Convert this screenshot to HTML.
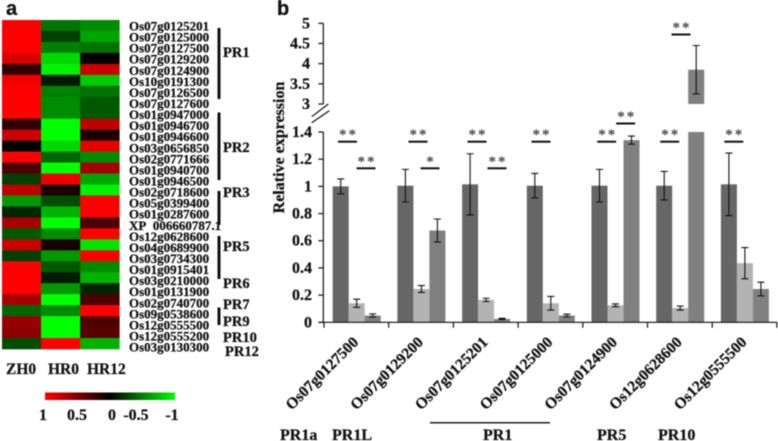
<!DOCTYPE html>
<html>
<head>
<meta charset="utf-8">
<style>
html,body{margin:0;padding:0;background:#fff;width:778px;height:441px;overflow:hidden}
svg{display:block;filter:blur(0.45px)}
text{font-family:"Liberation Serif",serif;font-weight:bold;fill:#111;stroke:#111;stroke-width:0.25px}
</style>
</head>
<body>
<svg id="figure" width="778" height="441" viewBox="0 0 778 441" xmlns="http://www.w3.org/2000/svg">
  <defs>
    <linearGradient id="cbar" x1="0" x2="1" y1="0" y2="0">
      <stop offset="0" stop-color="#ff0000"/>
      <stop offset="0.5" stop-color="#000000"/>
      <stop offset="1" stop-color="#00ff00"/>
    </linearGradient>
  </defs>
  <text x="6" y="15" style="font-family:'Liberation Sans',sans-serif;font-size:20px">a</text>
  <text x="277" y="15" style="font-family:'Liberation Sans',sans-serif;font-size:20px">b</text>
  <g id="heatmap"></g>
  <g id="genes"></g>
  <g fill="#111">
    <rect x="217.5" y="28" width="3" height="71"/>
    <rect x="217.5" y="112.5" width="3" height="67.5"/>
    <rect x="217.5" y="191" width="3" height="34"/>
    <rect x="217.5" y="236" width="3" height="43"/>
    <rect x="217.5" y="307.5" width="3" height="17.5"/>
  </g>
  <g font-size="14.5">
    <text x="223" y="57">PR1</text>
    <text x="223" y="152">PR2</text>
    <text x="223" y="197">PR3</text>
    <text x="223" y="251">PR5</text>
    <text x="223" y="288">PR6</text>
    <text x="223" y="309">PR7</text>
    <text x="223" y="326">PR9</text>
    <text x="223" y="342">PR10</text>
    <text x="225" y="356">PR12</text>
  </g>
  <g font-size="15.5">
    <text x="6" y="374">ZH0</text>
    <text x="48" y="374">HR0</text>
    <text x="87" y="374">HR12</text>
  </g>
  <rect x="45" y="392.5" width="130" height="7.5" fill="url(#cbar)"/>
  <g font-size="16" text-anchor="middle">
    <text x="43" y="420">1</text>
    <text x="77" y="420">0.5</text>
    <text x="112" y="420">0</text>
    <text x="136" y="420">-0.5</text>
    <text x="172" y="420">-1</text>
  </g>
  <g id="chart"></g>
  <text font-size="16" text-anchor="middle" transform="translate(284,147.5) rotate(-90)">Relative expression</text>
  <g font-size="16">
    <text x="280" y="440">PR1a</text>
    <text x="332" y="440">PR1L</text>
    <rect x="430" y="422" width="120" height="1.5" fill="#222"/>
    <text x="483" y="440">PR1</text>
    <text x="597" y="440">PR5</text>
    <text x="658" y="440">PR10</text>
  </g>
</svg>
<script>
/* ---------- heatmap data ---------- */
const geneNames = ["Os07g0125201","Os07g0125000","Os07g0127500","Os07g0129200","Os07g0124900","Os10g0191300","Os07g0126500","Os07g0127600","Os01g0947000","Os01g0946700","Os01g0946600","Os03g0656850","Os02g0771666","Os01g0940700","Os01g0946500","Os02g0718600","Os05g0399400","Os01g0287600","XP_006660787.1","Os12g0628600","Os04g0689900","Os03g0734300","Os01g0915401","Os03g0210000","Os01g0131900","Os02g0740700","Os09g0538600","Os12g0555500","Os12g0555200","Os03g0130300"];
const heatZH0 = [1,1,1,0.85,0.2,0.95,1,1,1,0.2,0.8,0,1,0.3,-0.25,0.75,-0.6,-0.15,0.65,-0.35,0.8,-0.25,1,1,1,0.65,-0.4,0.6,0.55,-0.3];
const heatHR0 = [-0.45,-0.25,-0.5,-0.85,-0.95,-0.1,-0.5,-0.55,-0.55,-1,-1,-0.85,-0.4,-1,0.95,0.1,-0.3,-0.7,-1,-0.55,0.1,-0.6,-0.35,-0.1,-0.6,-1,-0.55,-1,-1,1];
const heatHR12 = [-0.55,-0.65,-0.45,0,0.8,-0.8,-0.45,-0.35,-0.35,0.75,0.1,0.9,-0.55,0.65,-0.65,-0.95,1,1,0.3,1,-0.9,1,-0.55,-0.7,-0.15,0.3,1,0.3,0.35,-0.7];

/* ---------- bar chart data ---------- */
const categories = ["Os07g0127500","Os07g0129200","Os07g0125201","Os07g0125000","Os07g0124900","Os12g0628600","Os12g0555500"];
const zh0Values = [1,1.005,1.015,1.005,1.005,1.005,1.015];
const hr0Values = [0.14,0.245,0.165,0.14,0.125,0.105,0.435];
const hr12Values = [0.05,0.675,0.025,0.05,1.34,3.85,0.245];
const zh0Errors = [0.055,0.12,0.225,0.09,0.12,0.105,0.23];
const hr0Errors = [0.03,0.025,0.012,0.05,0.01,0.015,0.115];
const hr12Errors = [0.012,0.085,0.004,0.01,0.03,0.6,0.05];
const lowerTicks = ["0","0.2","0.4","0.6","0.8","1","1.2","1.4"];
const upperTicks = ["3","3.5","4","4.5","5"];

const NS = "http://www.w3.org/2000/svg";
function mk(parent, tag, attrs, txt){
  const e = document.createElementNS(NS, tag);
  for (const k in attrs) e.setAttribute(k, attrs[k]);
  if (txt !== undefined) e.textContent = txt;
  parent.appendChild(e);
  return e;
}
function heatColor(v){
  const c = Math.round(Math.min(1, Math.abs(v)) * 255);
  return v >= 0 ? "rgb(" + c + ",0,0)" : "rgb(0," + c + ",0)";
}

/* heatmap */
const hm = document.getElementById("heatmap");
const heatCols = [heatZH0, heatHR0, heatHR12];
const hmX = 2, hmY = 20, cellW = 39.1, cellH = 329 / 30;
heatCols.forEach(function(col, c){
  col.forEach(function(v, r){
    const cell = mk(hm, "rect", {x: hmX + c * cellW, y: hmY + r * cellH, width: cellW + 0.3, height: cellH + 0.3, fill: heatColor(v)});
    
    
  });
});
const gl = document.getElementById("genes");
geneNames.forEach(function(name, r){
  const t = mk(gl, "text", {x: 129, y: 30.5 + r * 11.07, "font-size": 13, style: "white-space:pre"}, name.replace("_", "\u00a0\u00a0"));
  
  
});

/* axes */
const chart = document.getElementById("chart");
const axisX = 323.3, baseY = 322.3, lowTopY = 132, upBottomY = 104, upTopY = 23.3;
const tick0 = 324, groupW = 64.7, barW = 16, barOffset = 8.7;
function yLow(v){ return baseY - (baseY - lowTopY) * v / 1.4; }
function yUp(v){ return upBottomY - (upBottomY - upTopY) * (v - 3) / 2; }
function yAny(v){ return v > 1.4 ? yUp(v) : yLow(v); }
const barColors = ["#666666","#b3b3b3","#808080"];

const seriesVals = [zh0Values, hr0Values, hr12Values];
const seriesErrs = [zh0Errors, hr0Errors, hr12Errors];
const seriesNames = ["zh0","hr0","hr12"];
categories.forEach(function(cat, g){
  seriesVals.forEach(function(vals, s){
    const v = vals[g], err = seriesErrs[s][g];
    const x = tick0 + g * groupW + barOffset + s * barW;
    const low = mk(chart, "rect", {x: x, y: yLow(Math.min(v, 1.4)), width: barW, height: baseY - yLow(Math.min(v, 1.4)), fill: barColors[s]});
    
    
    if (v > 1.4) {
      const up = mk(chart, "rect", {x: x, y: yUp(v), width: barW, height: upBottomY - yUp(v), fill: barColors[s]});
      
      
    }
    const cx = x + barW / 2, y1 = yAny(v + err), y2 = yAny(v - err);
    const eb = mk(chart, "path", {d: "M" + cx + " " + y1 + "V" + y2 + "M" + (cx - 3.5) + " " + y1 + "H" + (cx + 3.5) + "M" + (cx - 3.5) + " " + y2 + "H" + (cx + 3.5), stroke: "#111", "stroke-width": 1.1, fill: "none"});
    
    
  });
  const lx = tick0 + g * groupW + groupW / 2 + 3;
  const lbl = mk(chart, "text", {"font-size": 15.5, "text-anchor": "end", transform: "translate(" + lx + ",343) rotate(-45)"}, cat);
  
  
});

const axes = mk(chart, "path", {d: "M" + axisX + " " + upTopY + "V" + upBottomY + "M" + axisX + " " + lowTopY + "V" + baseY + "M319 " + baseY + "H777", stroke: "#111", "stroke-width": 1.2, fill: "none"});



lowerTicks.forEach(function(lab){
  const y = yLow(parseFloat(lab));
  const m = mk(chart, "line", {x1: axisX - 5, x2: axisX, y1: y, y2: y, stroke: "#111", "stroke-width": 1.2});
  
  
  const t = mk(chart, "text", {x: 312, y: y + 5, "font-size": 16, "text-anchor": "end"}, lab);
  
  
});
upperTicks.forEach(function(lab){
  const y = yUp(parseFloat(lab));
  const m = mk(chart, "line", {x1: axisX - 5, x2: axisX, y1: y, y2: y, stroke: "#111", "stroke-width": 1.2});
  
  
  const t = mk(chart, "text", {x: 310, y: y + 5, "font-size": 16, "text-anchor": "end"}, lab);
  
  
});
for (let i = 0; i <= categories.length; i++) {
  const x = tick0 + i * groupW;
  const m = mk(chart, "line", {x1: x, x2: x, y1: baseY, y2: baseY + 5.5, stroke: "#111", "stroke-width": 1.2});
  
  
}
const brk = mk(chart, "path", {d: "M311.7 116.7L328.3 104M311.7 122.7L329.3 110.7", stroke: "#111", "stroke-width": 1.2, fill: "none"});



/* significance markers */
function sig(cx, y, label){
  const r = mk(chart, "rect", {x: cx - 9.5, y: y - 1, width: 19, height: 2, fill: "#111"});
  
  
  const t = mk(chart, "text", {x: cx + 1, y: y - 2.5, "font-size": 15, "text-anchor": "middle", style: "letter-spacing:2px;stroke:none;fill:#444"}, label);
  
  
}
sig(347.5, 141.7, "**"); sig(366, 168.3, "**");
sig(418, 141.7, "**");   sig(430, 168.3, "*");
sig(477, 141.7, "**");   sig(497, 168.3, "**");
sig(541, 141.7, "**");
sig(606.7, 141.7, "**"); sig(625.7, 123.5, "**");
sig(669.7, 141.7, "**"); sig(681, 34.5, "**");
sig(733.8, 141.7, "**");
</script>
</body>
</html>
